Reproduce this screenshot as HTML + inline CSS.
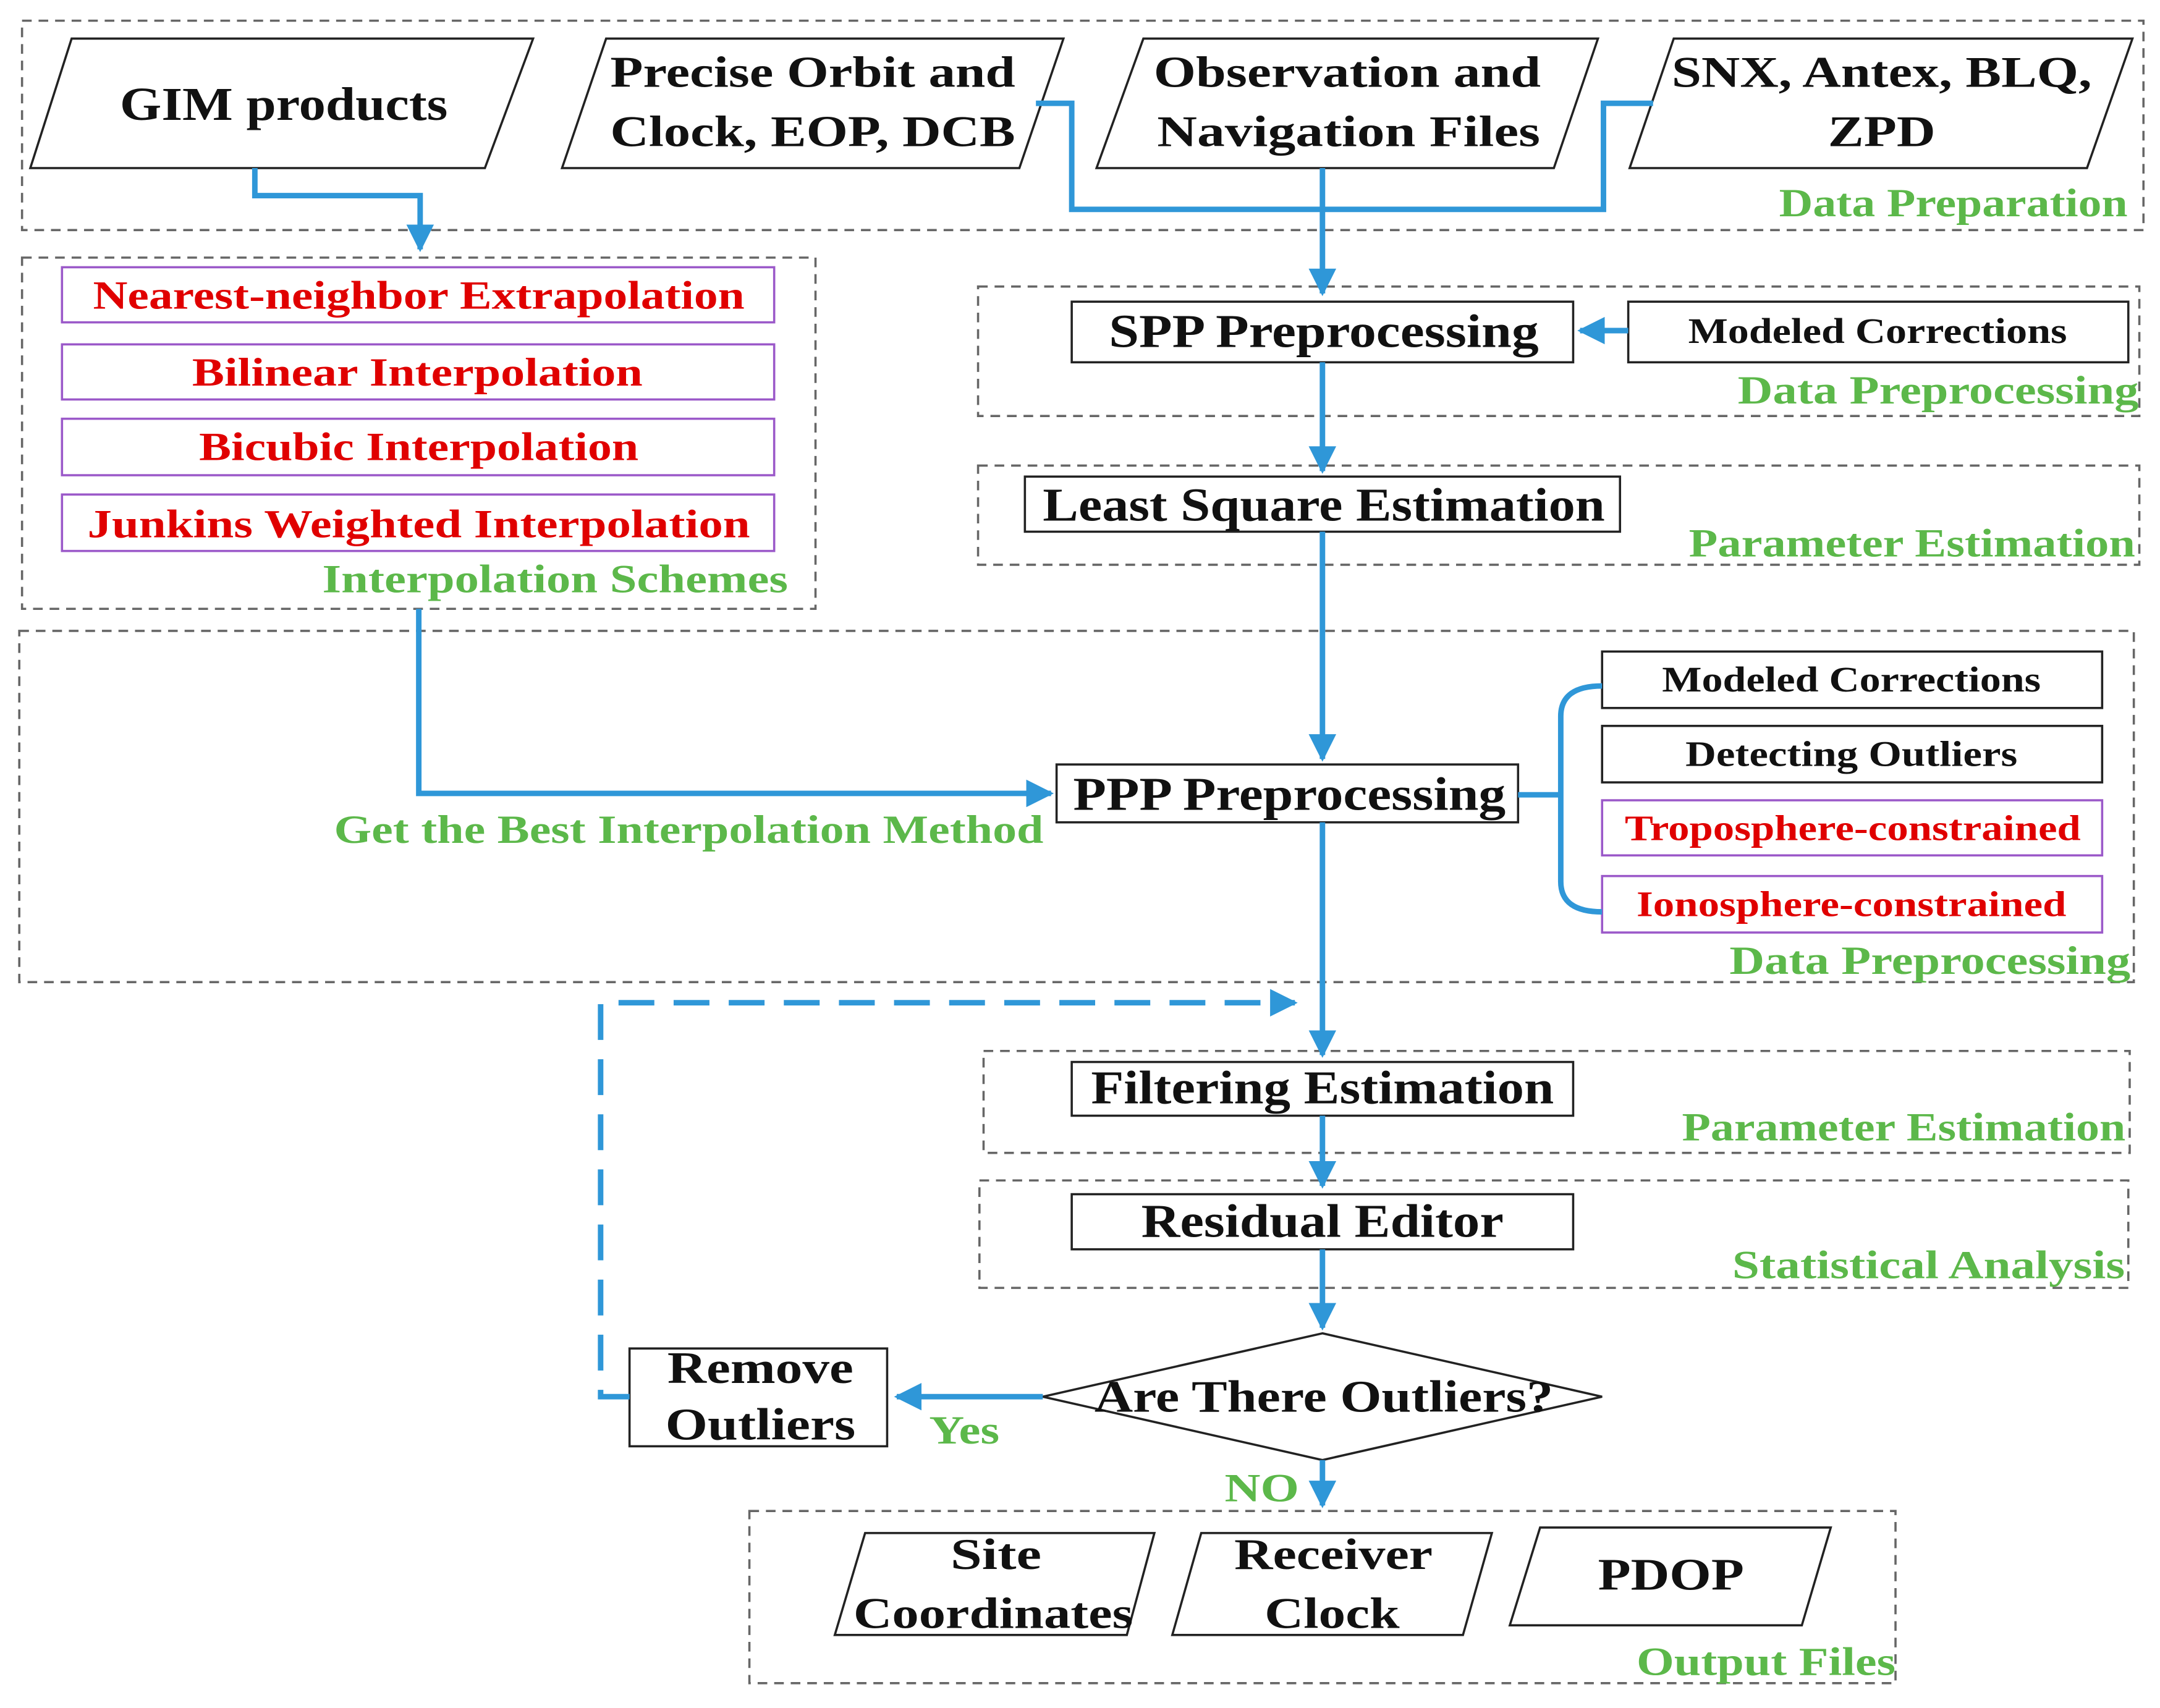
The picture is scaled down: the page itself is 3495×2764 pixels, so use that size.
<!DOCTYPE html>
<html>
<head>
<meta charset="utf-8">
<style>
html,body{margin:0;padding:0;background:#fff;}
svg{display:block;}
text{font-family:"Liberation Serif",serif;font-weight:bold;}
</style>
</head>
<body>
<svg width="3495" height="2764" viewBox="0 0 1568 1240" xmlns="http://www.w3.org/2000/svg">
<defs>
<marker id="ah" viewBox="0 0 10 10" refX="9" refY="5" markerWidth="5" markerHeight="5" orient="auto" markerUnits="strokeWidth">
<path d="M0,0 L10,5 L0,10 z" fill="#2f97d8"/>
</marker>
</defs>
<rect width="1568" height="1240" fill="#fff"/>
<g fill="none" stroke="#666" stroke-width="1.6" stroke-dasharray="7,5">
<rect x="16" y="15" width="1540" height="152"/>
<rect x="16" y="187" width="576" height="255"/>
<rect x="710" y="208" width="843" height="94"/>
<rect x="710" y="338" width="843" height="72"/>
<rect x="14" y="458" width="1535" height="255"/>
<rect x="714" y="763" width="832" height="74"/>
<rect x="711" y="857" width="834" height="78"/>
<rect x="544" y="1097" width="832" height="125"/>
</g>
<g fill="#fff" stroke="#222" stroke-width="1.6">
<polygon points="52,28 387,28 352,122 22,122"/>
<polygon points="440,28 772,28 740,122 408,122"/>
<polygon points="830,28 1160,28 1128,122 796,122"/>
<polygon points="1215,28 1548,28 1515,122 1183,122"/>
<rect x="778" y="219" width="364" height="44"/>
<rect x="1182" y="219" width="363" height="44"/>
<rect x="744" y="346" width="432" height="40"/>
<rect x="767" y="555" width="335" height="42"/>
<rect x="1163" y="473" width="363" height="41"/>
<rect x="1163" y="527" width="363" height="41"/>
<rect x="778" y="771" width="364" height="39"/>
<rect x="778" y="867" width="364" height="40"/>
<polygon points="960,968 1163,1014 960,1060 757,1014"/>
<rect x="457" y="979" width="187" height="71"/>
<polygon points="628,1113 838,1113 818,1187 606,1187"/>
<polygon points="872,1113 1083,1113 1062,1187 851,1187"/>
<polygon points="1118,1109 1329,1109 1308,1180 1096,1180"/>
</g>
<g fill="#fff" stroke="#9b59c9" stroke-width="1.6">
<rect x="45" y="194" width="517" height="40"/>
<rect x="45" y="250" width="517" height="40"/>
<rect x="45" y="304" width="517" height="41"/>
<rect x="45" y="359" width="517" height="41"/>
<rect x="1163" y="581" width="363" height="40"/>
<rect x="1163" y="636" width="363" height="41"/>
</g>
<g fill="none" stroke="#2f97d8" stroke-width="4">
<polyline points="185,122 185,142 305,142 305,181" marker-end="url(#ah)"/>
<polyline points="752,75 778,75 778,152 1164,152 1164,75 1200,75"/>
<line x1="960" y1="122" x2="960" y2="213" marker-end="url(#ah)"/>
<line x1="1182" y1="240" x2="1147" y2="240" marker-end="url(#ah)"/>
<line x1="960" y1="263" x2="960" y2="342" marker-end="url(#ah)"/>
<line x1="960" y1="386" x2="960" y2="551" marker-end="url(#ah)"/>
<polyline points="304,442 304,576 763,576" marker-end="url(#ah)"/>
<line x1="1102" y1="577" x2="1133" y2="577"/>
<path d="M1163,498 Q1133,498 1133,520 L1133,640 Q1133,662 1163,662"/>
<line x1="960" y1="597" x2="960" y2="766" marker-end="url(#ah)"/>
<line x1="960" y1="810" x2="960" y2="861" marker-end="url(#ah)"/>
<line x1="960" y1="907" x2="960" y2="964" marker-end="url(#ah)"/>
<line x1="757" y1="1014" x2="651" y2="1014" marker-end="url(#ah)"/>
<line x1="960" y1="1060" x2="960" y2="1093" marker-end="url(#ah)"/>
<polyline points="457,1014 436,1014 436,728 940,728" stroke-dasharray="26,14" marker-end="url(#ah)"/>
</g>
<g fill="#111" text-anchor="middle" lengthAdjust="spacingAndGlyphs">
<text x="206" y="87" font-size="34" textLength="238" lengthAdjust="spacingAndGlyphs">GIM products</text>
<text x="590" y="63" font-size="32" textLength="294" lengthAdjust="spacingAndGlyphs">Precise Orbit and</text>
<text x="590" y="106" font-size="32" textLength="294" lengthAdjust="spacingAndGlyphs">Clock, EOP, DCB</text>
<text x="978" y="63" font-size="32" textLength="281" lengthAdjust="spacingAndGlyphs">Observation and</text>
<text x="979" y="106" font-size="32" textLength="278" lengthAdjust="spacingAndGlyphs">Navigation Files</text>
<text x="1366" y="63" font-size="32" textLength="305" lengthAdjust="spacingAndGlyphs">SNX, Antex, BLQ,</text>
<text x="1366" y="106" font-size="32" textLength="78" lengthAdjust="spacingAndGlyphs">ZPD</text>
<text x="961" y="252" font-size="34" textLength="312" lengthAdjust="spacingAndGlyphs">SPP Preprocessing</text>
<text x="1363" y="249" font-size="26" textLength="275" lengthAdjust="spacingAndGlyphs">Modeled Corrections</text>
<text x="961" y="378" font-size="34" textLength="408" lengthAdjust="spacingAndGlyphs">Least Square Estimation</text>
<text x="936" y="588" font-size="34" textLength="314" lengthAdjust="spacingAndGlyphs">PPP Preprocessing</text>
<text x="1344" y="502" font-size="26" textLength="275" lengthAdjust="spacingAndGlyphs">Modeled Corrections</text>
<text x="1344" y="556" font-size="26" textLength="241" lengthAdjust="spacingAndGlyphs">Detecting Outliers</text>
<text x="960" y="801" font-size="34" textLength="336" lengthAdjust="spacingAndGlyphs">Filtering Estimation</text>
<text x="960" y="898" font-size="34" textLength="263" lengthAdjust="spacingAndGlyphs">Residual Editor</text>
<text x="961" y="1025" font-size="33" textLength="333" lengthAdjust="spacingAndGlyphs">Are There Outliers?</text>
<text x="552" y="1004" font-size="33" textLength="135" lengthAdjust="spacingAndGlyphs">Remove</text>
<text x="552" y="1045" font-size="33" textLength="138" lengthAdjust="spacingAndGlyphs">Outliers</text>
<text x="723" y="1139" font-size="32" textLength="66" lengthAdjust="spacingAndGlyphs">Site</text>
<text x="721" y="1182" font-size="32" textLength="203" lengthAdjust="spacingAndGlyphs">Coordinates</text>
<text x="968" y="1139" font-size="32" textLength="144" lengthAdjust="spacingAndGlyphs">Receiver</text>
<text x="967" y="1182" font-size="32" textLength="98" lengthAdjust="spacingAndGlyphs">Clock</text>
<text x="1213" y="1154" font-size="33" textLength="106" lengthAdjust="spacingAndGlyphs">PDOP</text>
</g>
<g fill="#e00000" text-anchor="middle" font-size="29">
<text x="304" y="224" textLength="473" lengthAdjust="spacingAndGlyphs">Nearest-neighbor Extrapolation</text>
<text x="303" y="280" textLength="327" lengthAdjust="spacingAndGlyphs">Bilinear Interpolation</text>
<text x="304" y="334" textLength="319" lengthAdjust="spacingAndGlyphs">Bicubic Interpolation</text>
<text x="304" y="390" textLength="481" lengthAdjust="spacingAndGlyphs">Junkins Weighted Interpolation</text>
<text x="1345" y="610" font-size="26" textLength="331" lengthAdjust="spacingAndGlyphs">Troposphere-constrained</text>
<text x="1344" y="665" font-size="26" textLength="312" lengthAdjust="spacingAndGlyphs">Ionosphere-constrained</text>
</g>
<g fill="#5cb84a" font-size="29" text-anchor="middle">
<text x="1418" y="157" textLength="253" lengthAdjust="spacingAndGlyphs">Data Preparation</text>
<text x="403" y="430" textLength="338" lengthAdjust="spacingAndGlyphs">Interpolation Schemes</text>
<text x="1407" y="293" textLength="291" lengthAdjust="spacingAndGlyphs">Data Preprocessing</text>
<text x="1388" y="404" textLength="324" lengthAdjust="spacingAndGlyphs">Parameter Estimation</text>
<text x="500" y="612" textLength="515" lengthAdjust="spacingAndGlyphs">Get the Best Interpolation Method</text>
<text x="1401" y="707" textLength="291" lengthAdjust="spacingAndGlyphs">Data Preprocessing</text>
<text x="1382" y="828" textLength="322" lengthAdjust="spacingAndGlyphs">Parameter Estimation</text>
<text x="1400" y="928" textLength="285" lengthAdjust="spacingAndGlyphs">Statistical Analysis</text>
<text x="700" y="1048" textLength="51" lengthAdjust="spacingAndGlyphs">Yes</text>
<text x="916" y="1090" textLength="54" lengthAdjust="spacingAndGlyphs">NO</text>
<text x="1282" y="1216" textLength="188" lengthAdjust="spacingAndGlyphs">Output Files</text>
</g>
</svg>
</body>
</html>
